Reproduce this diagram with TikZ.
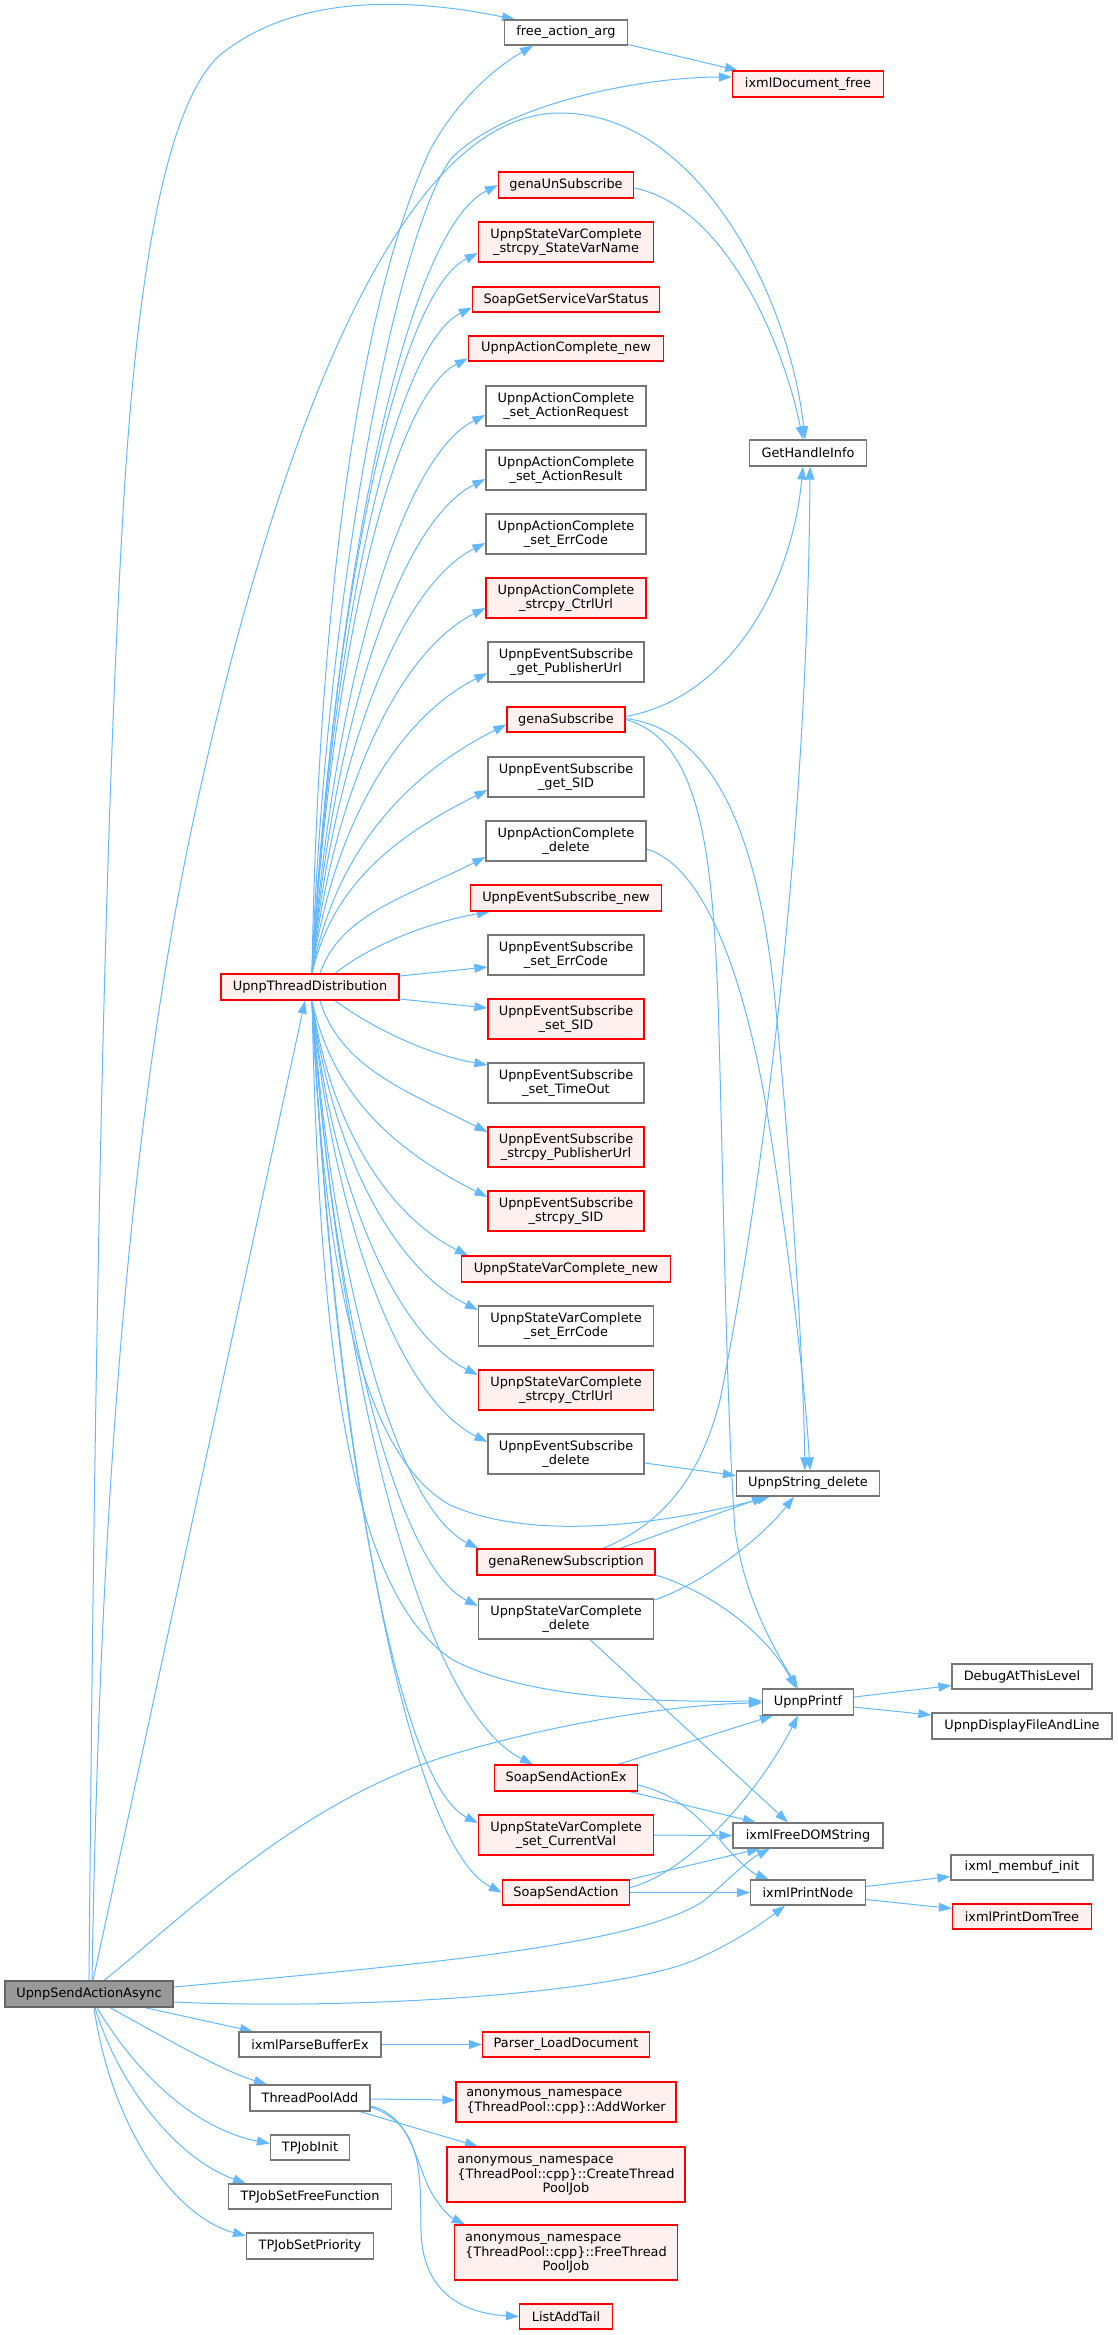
\documentclass[tikz,border=0pt]{standalone}
\usepackage{fontspec}
\newfontfamily\dvsans{DejaVu Sans}
\usetikzlibrary{arrows.meta,calc}
\definecolor{edgeblue}{HTML}{63B8FF}
\definecolor{nodegray}{HTML}{777777}
\definecolor{nodered}{HTML}{FF0000}
\definecolor{nodepink}{HTML}{FFF0F0}
\definecolor{rootfill}{HTML}{999999}
\definecolor{rootdraw}{HTML}{666666}
\pgfdeclarelayer{edges}
\pgfsetlayers{edges,main}
\newcommand\lblfont{\dvsans\fontsize{12.9pt}{14.7pt}\selectfont}
\newcommand\fanup[2]{\draw[ed] let \p1=(#1), \p2=(#2) in (\p1) .. controls ({\x1+0.12*(\x2-\x1)},{\y1+0.5*(\y2-\y1)}) and ({\x2-0.5*(\x2-\x1)},{\y2-0.25*(\x2-\x1)}) .. (\p2);}
\newcommand\fandown[2]{\draw[ed] let \p1=(#1), \p2=(#2) in (\p1) .. controls ({\x1+0.12*(\x2-\x1)},{\y1+0.5*(\y2-\y1)}) and ({\x2-0.5*(\x2-\x1)},{\y2+0.25*(\x2-\x1)}) .. (\p2);}
\tikzset{
  fn/.style={draw=nodegray, fill=white, line width=1.2pt, inner sep=0pt, font=\lblfont, align=center},
  fnr/.style={fn, draw=nodered, fill=nodepink},
  rootn/.style={fn, draw=rootdraw, fill=rootfill},
  bx/.style n args={2}{minimum width=#1pt, minimum height=#2pt},
  ed/.style={draw=edgeblue, line width=1pt, -{Triangle[length=13pt,width=9pt]}},
}
\begin{document}
\begin{tikzpicture}[x=1pt,y=-1pt]
\useasboundingbox (0,0) rectangle (1117,2335);
% column 1
\node[rootn, bx={168}{26}] (root) at (89,1994) {UpnpSendActionAsync};
% column 2
\node[fnr, bx={178}{26}] (utd) at (310,987) {UpnpThreadDistribution};
\node[fn, bx={142}{25}] (ipb) at (310,2044.5) {ixmlParseBufferEx};
\node[fn, bx={120}{26}] (tpa) at (310,2098) {ThreadPoolAdd};
\node[fn, bx={79}{25}] (tji) at (310,2147.5) {TPJobInit};
\node[fn, bx={163}{25}] (tjf) at (310,2196.5) {TPJobSetFreeFunction};
\node[fn, bx={127}{26}] (tjp) at (310,2246) {TPJobSetPriority};
% column 3
\node[fn, bx={123}{25}] (faa) at (566,32.5) {free\_action\_arg};
\node[fnr, bx={135}{26}] (gus) at (566,185) {genaUnSubscribe};
\node[fnr, bx={175}{40}] (svn) at (566,242) {UpnpStateVarComplete\\\_strcpy\_StateVarName};
\node[fnr, bx={187}{25}] (sgs) at (566,299.5) {SoapGetServiceVarStatus};
\node[fnr, bx={195}{25}] (acn) at (566,348.5) {UpnpActionComplete\_new};
\node[fn, bx={160}{40}] (aar) at (566,406) {UpnpActionComplete\\\_set\_ActionRequest};
\node[fn, bx={160}{40}] (aas) at (566,470) {UpnpActionComplete\\\_set\_ActionResult};
\node[fn, bx={160}{40}] (aec) at (566,534) {UpnpActionComplete\\\_set\_ErrCode};
\node[fnr, bx={160}{40}] (acu) at (566,598) {UpnpActionComplete\\\_strcpy\_CtrlUrl};
\node[fn, bx={156}{40}] (epu) at (566,662) {UpnpEventSubscribe\\\_get\_PublisherUrl};
\node[fnr, bx={118}{25}] (gs) at (566,719.5) {genaSubscribe};
\node[fn, bx={156}{40}] (egs) at (566,777) {UpnpEventSubscribe\\\_get\_SID};
\node[fn, bx={160}{40}] (acd) at (566,841) {UpnpActionComplete\\\_delete};
\node[fnr, bx={191}{26}] (esn) at (566,898) {UpnpEventSubscribe\_new};
\node[fn, bx={156}{40}] (ese) at (566,955) {UpnpEventSubscribe\\\_set\_ErrCode};
\node[fnr, bx={156}{40}] (ess) at (566,1019) {UpnpEventSubscribe\\\_set\_SID};
\node[fn, bx={156}{40}] (est) at (566,1083) {UpnpEventSubscribe\\\_set\_TimeOut};
\node[fnr, bx={156}{40}] (esp) at (566,1147) {UpnpEventSubscribe\\\_strcpy\_PublisherUrl};
\node[fnr, bx={156}{40}] (esd) at (566,1211) {UpnpEventSubscribe\\\_strcpy\_SID};
\node[fnr, bx={209}{26}] (svnew) at (566,1269) {UpnpStateVarComplete\_new};
\node[fn, bx={175}{40}] (sve) at (566,1326) {UpnpStateVarComplete\\\_set\_ErrCode};
\node[fnr, bx={175}{40}] (svc) at (566,1390) {UpnpStateVarComplete\\\_strcpy\_CtrlUrl};
\node[fn, bx={156}{40}] (esdel) at (566,1454) {UpnpEventSubscribe\\\_delete};
\node[fnr, bx={178}{26}] (grs) at (566,1562) {genaRenewSubscription};
\node[fn, bx={175}{40}] (svd) at (566,1619) {UpnpStateVarComplete\\\_delete};
\node[fnr, bx={143}{26}] (ssx) at (566,1778) {SoapSendActionEx};
\node[fnr, bx={175}{40}] (svcv) at (566,1835) {UpnpStateVarComplete\\\_set\_CurrentVal};
\node[fnr, bx={127}{25}] (ssa) at (566,1892.5) {SoapSendAction};
\node[fnr, bx={167}{25}] (pld) at (566,2044.5) {Parser\_LoadDocument};
\node[fnr, bx={220}{40}, align=left] (aw) at (566,2102) {anonymous\_namespace\\\{ThreadPool::cpp\}::AddWorker};
\node[fnr, bx={238}{55}] (ctj) at (566,2174.5) {\rlap{anonymous\_namespace}\phantom{\{ThreadPool::cpp\}::CreateThread}\\\{ThreadPool::cpp\}::CreateThread\\PoolJob};
\node[fnr, bx={223}{55}] (ftj) at (566,2252.5) {\rlap{anonymous\_namespace}\phantom{\{ThreadPool::cpp\}::FreeThread}\\\{ThreadPool::cpp\}::FreeThread\\PoolJob};
\node[fnr, bx={93}{25}] (lat) at (566,2316.5) {ListAddTail};
% column 4
\node[fnr, bx={151}{26}] (idf) at (808,84) {ixmlDocument\_free};
\node[fn, bx={117}{26}] (ghi) at (808,453) {GetHandleInfo};
\node[fn, bx={143}{25}] (usd) at (808,1483.5) {UpnpString\_delete};
\node[fn, bx={91}{26}] (upf) at (808,1702) {UpnpPrintf};
\node[fn, bx={150}{25}] (ifd) at (808,1835.5) {ixmlFreeDOMString};
\node[fn, bx={115}{25}] (ipn) at (808,1892.5) {ixmlPrintNode};
% column 5
\node[fn, bx={140}{25}] (dtl) at (1022,1676.5) {DebugAtThisLevel};
\node[fn, bx={180}{26}] (dfl) at (1022,1726) {UpnpDisplayFileAndLine};
\node[fn, bx={142}{25}] (mbi) at (1022,1867.5) {ixml\_membuf\_init};
\node[fnr, bx={139}{25}] (pdt) at (1022,1916.5) {ixmlPrintDomTree};
% fan start points
\coordinate (utdT) at ([xshift=2pt]utd.north);
\coordinate (utdT2) at ([xshift=10pt]utd.north);
\coordinate (utdT3) at ([xshift=25pt]utd.north);
\coordinate (utdB) at ([xshift=2pt]utd.south);
\coordinate (utdB2) at ([xshift=10pt]utd.south);
\coordinate (utdB3) at ([xshift=25pt]utd.south);
\begin{pgfonlayer}{edges}
% root edges
\draw[ed] (root.north) .. controls (95,1300) and (105,800) .. (125,480) .. controls (140,250) and (170,100) .. (220,55) .. controls (300,-10) and (420,0) .. ([xshift=-51pt]faa.north);
\draw[ed] ([xshift=3pt]root.north) .. controls (100,1500) and (130,1100) .. (200,790) .. controls (260,520) and (380,113) .. (560,113) .. controls (700,113) and (790,300) .. ([xshift=-3pt]ghi.north);
\draw[ed] ([xshift=4pt]root.north) -- ([xshift=-5pt]utd.south);
\draw[ed] ([xshift=15pt]root.north) .. controls (180,1920) and (300,1800) .. (450,1755) .. controls (560,1722) and (680,1704) .. ([yshift=-1pt]upf.west);
\draw[ed] ([yshift=7pt]root.east) .. controls (420,1965) and (640,1945) .. (705,1900) .. controls (730,1878) and (748,1860) .. ([xshift=-38pt]ifd.south);
\draw[ed] ([yshift=-8pt]root.east) .. controls (350,2010) and (600,1995) .. (690,1962) .. controls (730,1945) and (760,1925) .. ([xshift=-23pt]ipn.south);
\draw[ed] ([xshift=56pt]root.south) -- ([xshift=-57pt]ipb.north);
\draw[ed] ([xshift=21pt]root.south) .. controls (160,2035) and (220,2070) .. ([xshift=-43pt]tpa.north);
\draw[ed] ([xshift=8pt]root.south) .. controls (140,2080) and (200,2130) .. ([yshift=4pt]tji.west);
\draw[ed] ([xshift=6pt]root.south) .. controls (120,2090) and (180,2160) .. ([xshift=-64pt]tjf.north);
\draw[ed] ([xshift=5pt]root.south) .. controls (110,2120) and (170,2215) .. ([yshift=10pt]tjp.west);
% column 2 edges
\draw[ed] (ipb.east) -- (pld.west);
\draw[ed] ([yshift=-1pt]tpa.east) -- ([yshift=2pt]aw.west);
\draw[ed] ([xshift=50pt]tpa.south) -- ([xshift=-88pt]ctj.north);
\draw[ed] ([yshift=-8pt]tpa.east) .. controls (410,2115) and (415,2160) .. (430,2190) .. controls (440,2208) and (450,2217) .. ([xshift=11pt]ftj.north west);
\draw[ed] ([yshift=-9pt]tpa.east) .. controls (425,2125) and (420,2180) .. (421,2230) .. controls (422,2290) and (460,2313) .. (lat.west);
% UpnpThreadDistribution fan
\draw[ed] (utdT) .. controls (318,600) and (360,300) .. (430,150) .. controls (460,95) and (500,65) .. ([xshift=-33pt]faa.south);
\draw[ed] (utdT) .. controls (325,600) and (395,240) .. (450,160) .. controls (500,105) and (640,77) .. ([yshift=7pt]idf.west);
\fanup{utdT}{gus.west}
\fanup{utdT}{[yshift=-11pt]svn.west}
\fanup{utdT}{[yshift=-8pt]sgs.west}
\fanup{utdT}{[yshift=-10pt]acn.west}
\fanup{utdT}{[yshift=-9pt]aar.west}
\fanup{utdT}{[yshift=-9pt]aas.west}
\fanup{utdT}{[yshift=-9pt]aec.west}
\fanup{utdT}{[yshift=-10pt]acu.west}
\fanup{utdT}{[yshift=-11pt]epu.west}
\fanup{utdT}{[yshift=-5pt]gs.west}
\fanup{utdT}{[yshift=-13pt]egs.west}
\fanup{utdT2}{[yshift=-16pt]acd.west}
\draw[ed] (utdT3) .. controls (370,945) and (430,922) .. ([xshift=20pt]esn.south west);
\draw[ed] ([yshift=11pt]utd.east) -- ([yshift=-12pt]ese.west);
\draw[ed] ([yshift=-12pt]utd.east) -- ([yshift=11pt]ess.west);
\draw[ed] (utdB3) .. controls (375,1030) and (430,1055) .. ([yshift=18pt]est.west);
\fandown{utdB2}{[yshift=15pt]esp.west}
\fandown{utdB}{[yshift=14pt]esd.west}
\fandown{utdB}{[xshift=7pt]svnew.north west}
\fandown{utdB}{[yshift=16pt]sve.west}
\fandown{utdB}{[yshift=15pt]svc.west}
\fandown{utdB}{[yshift=12pt]esdel.west}
\fandown{utdB}{[xshift=2pt]grs.north west}
\fandown{utdB}{[yshift=13pt]svd.west}
\fandown{utdB}{[xshift=-33pt]ssx.north}
\fandown{utdB}{[yshift=12pt]svcv.west}
\fandown{utdB}{ssa.west}
\draw[ed] (utdB) .. controls (325,1300) and (370,1460) .. (450,1505) .. controls (540,1545) and (680,1520) .. ([xshift=-38pt]usd.south);
\draw[ed] (utdB) .. controls (320,1400) and (360,1600) .. (453,1660) .. controls (530,1700) and (660,1702) .. ([yshift=1pt]upf.west);
% column 3 -> 4
\draw[ed] ([yshift=-12pt]faa.east) -- ([xshift=-70pt]idf.north);
\draw[ed] ([yshift=-3pt]gus.east) .. controls (720,205) and (780,330) .. ([xshift=-5pt]ghi.north);
\draw[ed] ([yshift=3pt]gs.east) .. controls (720,700) and (790,600) .. ([xshift=-5pt]ghi.south);
\draw[ed] ([yshift=1pt]gs.east) .. controls (720,730) and (760,850) .. (775,1000) .. controls (790,1150) and (803,1350) .. ([xshift=-3pt]usd.north);
\draw[ed] (gs.east) .. controls (700,740) and (712,850) .. (718,1000) .. controls (724,1200) and (726,1400) .. (735,1530) .. controls (745,1600) and (775,1650) .. ([xshift=-10pt]upf.north);
\draw[ed] ([yshift=-8pt]acd.east) .. controls (700,865) and (740,960) .. (765,1100) .. controls (785,1220) and (805,1380) .. ([xshift=2pt]usd.north);
\draw[ed] ([xshift=37pt]grs.north) .. controls (660,1525) and (700,1480) .. (720,1400) .. controls (770,1150) and (808,800) .. ([xshift=2pt]ghi.south);
\draw[ed] ([yshift=-9pt]esdel.east) -- ([yshift=8pt]usd.west);
\draw[ed] ([xshift=54pt]grs.north) -- ([xshift=-43pt]usd.south);
\draw[ed] ([yshift=-13pt]grs.east) .. controls (720,1595) and (770,1640) .. ([xshift=-12pt]upf.north);
\draw[ed] ([yshift=19pt]svd.east) .. controls (700,1585) and (760,1540) .. ([xshift=-14pt]usd.south);
\draw[ed] ([xshift=24pt]svd.south) -- ([xshift=-20pt]ifd.north);
\draw[ed] ([xshift=52pt]ssx.north) -- ([xshift=-35pt]upf.south);
\draw[ed] ([xshift=64pt]ssx.south) -- ([xshift=-52pt]ifd.north);
\draw[ed] ([yshift=-7pt]ssx.east) .. controls (680,1795) and (700,1820) .. (720,1840) .. controls (735,1858) and (750,1872) .. ([xshift=19pt]ipn.north west);
\draw[ed] (svcv.east) -- (ifd.west);
\draw[ed] ([xshift=64pt]ssa.north) -- ([xshift=-48pt]ifd.south);
\draw[ed] ([yshift=5pt]ssa.east) .. controls (690,1872) and (760,1790) .. ([xshift=-10pt]upf.south);
\draw[ed] (ssa.east) -- (ipn.west);
% column 4 -> 5
\draw[ed] ([yshift=5pt]upf.east) -- ([yshift=-9pt]dtl.west);
\draw[ed] ([yshift=-5pt]upf.east) -- ([yshift=11pt]dfl.west);
\draw[ed] ([yshift=6pt]ipn.east) -- ([yshift=-9pt]mbi.west);
\draw[ed] ([yshift=-7pt]ipn.east) -- ([yshift=8pt]pdt.west);
\end{pgfonlayer}
\end{tikzpicture}
\end{document}
